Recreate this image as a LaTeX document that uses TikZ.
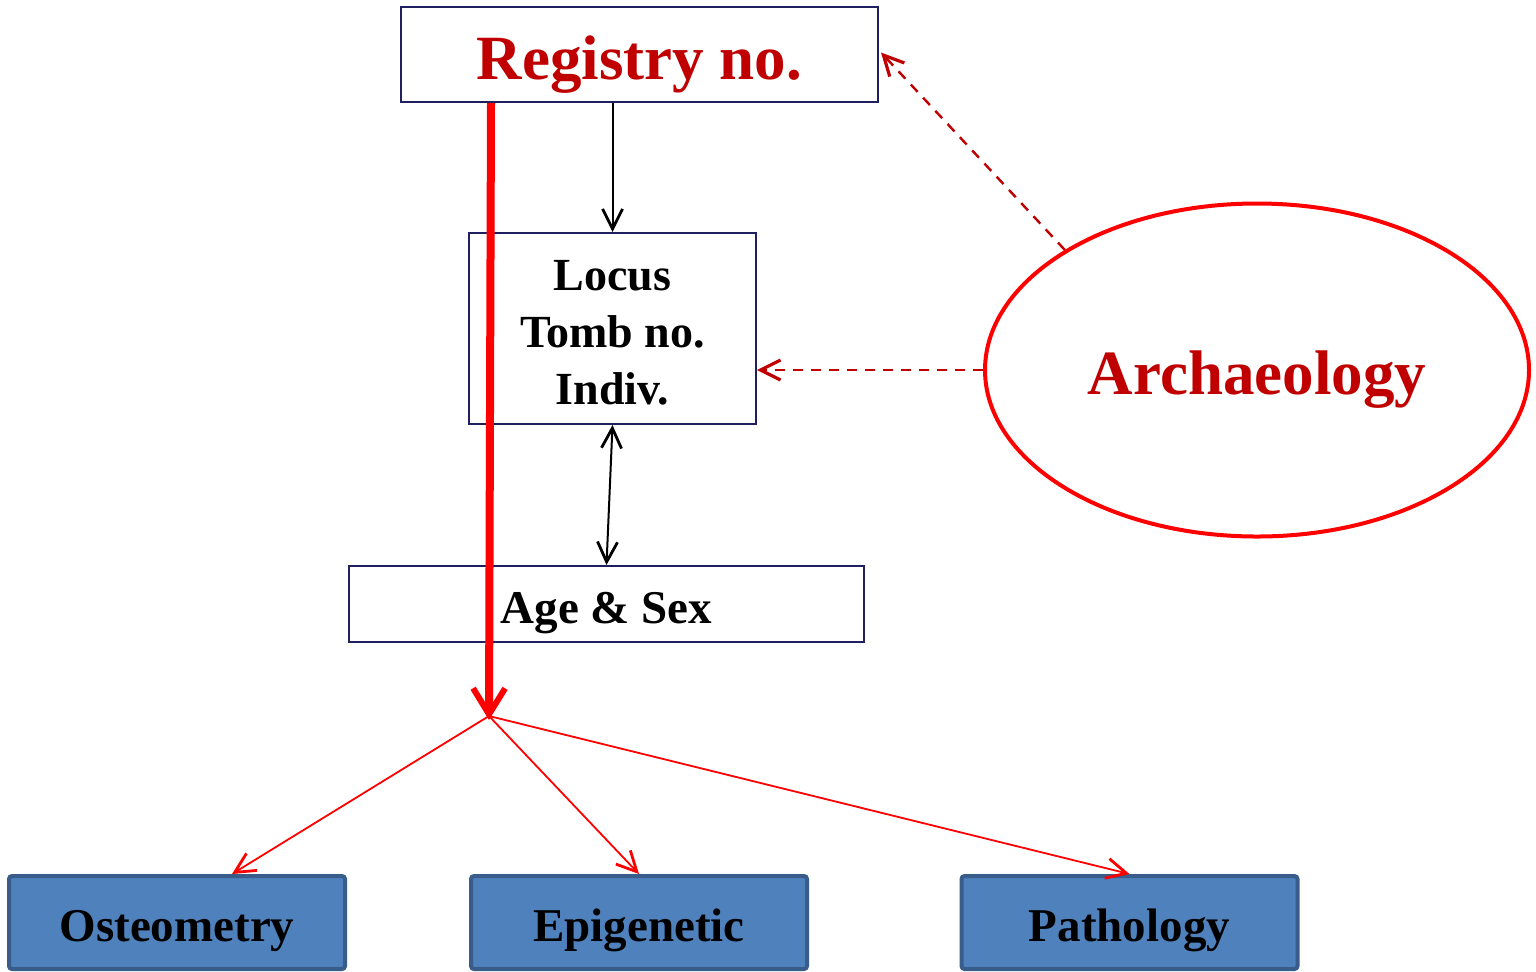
\documentclass[tikz,border=0pt]{standalone}
\usepackage{fontspec}
\setmainfont{Liberation Serif}
\usetikzlibrary{arrows.meta,shapes.geometric,calc}
\definecolor{navy}{RGB}{32,32,96}
\definecolor{dred}{RGB}{192,0,0}
\definecolor{bfill}{RGB}{79,129,189}
\definecolor{bdraw}{RGB}{56,93,138}
\definecolor{bred}{RGB}{255,0,0}
\tikzset{
  wbox/.style={draw=navy,line width=1pt,fill=white,inner sep=0pt,font=\bfseries},
  bbox/.style={draw=bdraw,line width=2pt,fill=bfill,rounded corners=1.5pt,inner sep=0pt,minimum width=168pt,minimum height=46.5pt,font=\fontsize{23.5}{28}\selectfont\bfseries},
  blk/.style={black,line width=1pt},
  barb/.tip={Straight Barb[length=10pt,width=10pt,line width=1.4pt]},
  dbarb/.tip={Straight Barb[length=10pt,width=10pt,line width=1.6pt]},
  bigbarb/.tip={Straight Barb[length=13pt,width=16pt,line width=3pt]},
  dsh/.style={dred,line width=1.2pt,dash pattern=on 5pt off 4pt},
  rthin/.style={bred,line width=0.9pt},
}
\begin{document}
\begin{tikzpicture}[x=0.5pt,y=-0.5pt]
\useasboundingbox[fill=white] (0,0) rectangle (1536,971);
\node[wbox,minimum width=238.5pt,minimum height=47.5pt,text=dred,font=\fontsize{31.5}{36}\selectfont\bfseries] (reg) at (639.5,54.5) {\raisebox{-5pt}[\height][\depth]{Registry no.}};
\node[wbox,minimum width=143.5pt,minimum height=95.5pt,align=center,font=\fontsize{23}{28.5}\selectfont\bfseries] (loc) at (612.5,328.5) {};
\node[align=center,inner sep=0pt,font=\fontsize{23}{28.5}\selectfont\bfseries] (loctext) at ([yshift=-2pt]loc.center) {Locus\\Tomb no.\\Indiv.};
\node[wbox,minimum width=257.5pt,minimum height=38pt,font=\fontsize{23.5}{28}\selectfont\bfseries] (age) at (606.5,604) {};
\node[inner sep=0pt,font=\fontsize{23.5}{28}\selectfont\bfseries] (agetext) at ([yshift=-4.5pt]age.center) {Age \& Sex};
\node[ellipse,draw=bred,line width=2pt,minimum width=272pt,minimum height=166.5pt,inner sep=0pt] (arch) at (1257,370) {};
\node[inner sep=0pt,text=dred,font=\fontsize{31.5}{36}\selectfont\bfseries] (archtext) at ([yshift=-5pt]arch.center) {Archaeology};
\node[bbox] (ost) at (177,922.5) {};
\node[bbox] (epi) at (639,922.5) {};
\node[bbox] (pat) at (1129.5,922.5) {};
\node[inner sep=0pt,font=\fontsize{23.5}{28}\selectfont\bfseries] (ostt) at ([yshift=-4pt]ost.center) {Osteometry};
\node[inner sep=0pt,font=\fontsize{23.5}{28}\selectfont\bfseries] (epit) at ([yshift=-4pt]epi.center) {Epigenetic};
\node[inner sep=0pt,font=\fontsize{23.5}{28}\selectfont\bfseries] (patt) at ([yshift=-4pt]pat.center) {Pathology};
\coordinate (br) at (489,716);
% black arrows
\draw[blk,-barb] (reg.south -| loc.north) -- (loc.north);
\draw[blk,barb-barb] (loc.south) -- (age.north);
% red main arrow
\draw[bred,line width=4pt,-bigbarb] (reg.south -| 491,0) -- ([yshift=-2pt]br);
% branches
\draw[rthin,-barb] (br) -- (ost.north -| 232,0);
\draw[rthin,-barb] (br) -- (epi.north);
\draw[rthin,-barb] (br) -- (pat.north);
% dashed
\draw[dsh,-dbarb] (arch.148) -- ([shift={(1pt,1pt)}]reg.east);
\draw[dsh,-dbarb] (arch.west) -- (arch.west -| loc.east);
\end{tikzpicture}
\end{document}
